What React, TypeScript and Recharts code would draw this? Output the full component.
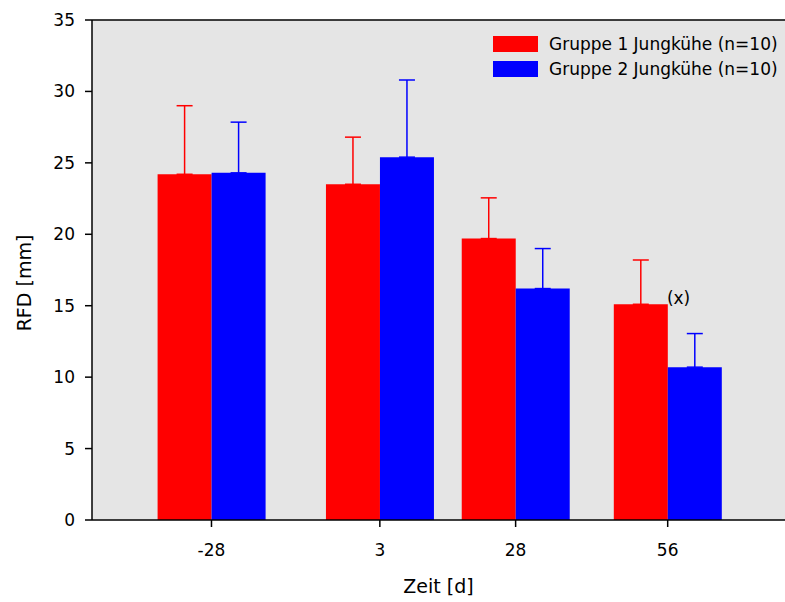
import React from 'react';
import {
  ComposedChart, Bar, XAxis, YAxis, CartesianGrid, ErrorBar, ReferenceLine, ReferenceDot, Label,
} from 'recharts';

// sampling days (numeric x axis, bars sit either side of the day)
const days = [-28, 3, 28, 56];
const group1 = [24.2, 23.5, 19.7, 15.1];
const group1Sd = [4.8, 3.3, 2.85, 3.1];
const group2 = [24.3, 25.4, 16.2, 10.7];
const group2Sd = [3.55, 5.4, 2.8, 2.35];
const yTicks = [0, 5, 10, 15, 20, 25, 30, 35];

const series = [
  { key: 'g1', name: 'Gruppe 1 Jungkühe (n=10)', color: '#ff0000' },
  { key: 'g2', name: 'Gruppe 2 Jungkühe (n=10)', color: '#0000ff' },
];

const data = days.map((d, i) => ({
  day: d,
  g1: group1[i],
  g1Err: [0, group1Sd[i]],
  g2: group2[i],
  g2Err: [0, group2Sd[i]],
}));

const FONT = '"DejaVu Sans", sans-serif';

// legend drawn on top of the plot, top right
const LegendBox = () => (
  <div style={{ position: 'absolute', left: 493, top: 31, fontFamily: FONT, fontSize: 17, color: '#000' }}>
    {series.map((s) => (
      <div key={s.key} style={{ display: 'flex', alignItems: 'center', height: 25 }}>
        <div style={{ width: 45, height: 16, background: s.color, marginRight: 11 }} />
        <span style={{ whiteSpace: 'nowrap' }}>{s.name}</span>
      </div>
    ))}
  </div>
);

export default function App() {
  return (
    <div style={{ position: 'absolute', left: 0, top: 0, width: 785, height: 602, background: '#fff', overflow: 'hidden' }}>
      <ComposedChart
        width={785}
        height={602}
        data={data}
        margin={{ top: 20, right: 0, bottom: 0, left: 0 }}
        barGap={0}
        style={{ fontFamily: FONT }}
      >
        <CartesianGrid fill="#e5e5e5" stroke="none" horizontal={false} vertical={false} />
        <XAxis
          type="number"
          dataKey="day"
          domain={[-50, 77.6]}
          ticks={days}
          allowDataOverflow
          height={82}
          tickSize={7}
          tickMargin={17}
          axisLine={{ stroke: '#000', strokeWidth: 1.5 }}
          tickLine={{ stroke: '#000', strokeWidth: 1.5 }}
          tick={{ fill: '#000', fontSize: 17 }}
        >
          <Label value="Zeit [d]" position="insideBottom" offset={9} fill="#000" fontSize={19} />
        </XAxis>
        <YAxis
          type="number"
          domain={[0, 35]}
          ticks={yTicks}
          width={92}
          tickSize={7}
          tickMargin={10}
          axisLine={{ stroke: '#000', strokeWidth: 1.5 }}
          tickLine={{ stroke: '#000', strokeWidth: 1.5 }}
          tick={{ fill: '#000', fontSize: 17 }}
          label={{
            content: () => (
              <text transform="translate(31, 283) rotate(-90)" textAnchor="middle" fill="#000" fontSize={19}>
                RFD [mm]
              </text>
            ),
          }}
        />
        <ReferenceLine y={35} stroke="#000" strokeWidth={1.5} />
        {series.map((s) => (
          <Bar key={s.key} dataKey={s.key} name={s.name} fill={s.color} barSize={54} isAnimationActive={false}>
            <ErrorBar
              dataKey={`${s.key}Err`}
              direction="y"
              width={8}
              stroke={s.color}
              strokeWidth={1.5}
              isAnimationActive={false}
            />
          </Bar>
        ))}
        <ReferenceDot
          x={58}
          y={15.55}
          r={0}
          fill="none"
          stroke="none"
          label={{ value: '(x)', position: 'center', fill: '#000', fontSize: 17 }}
        />
      </ComposedChart>
      <LegendBox />
    </div>
  );
}
